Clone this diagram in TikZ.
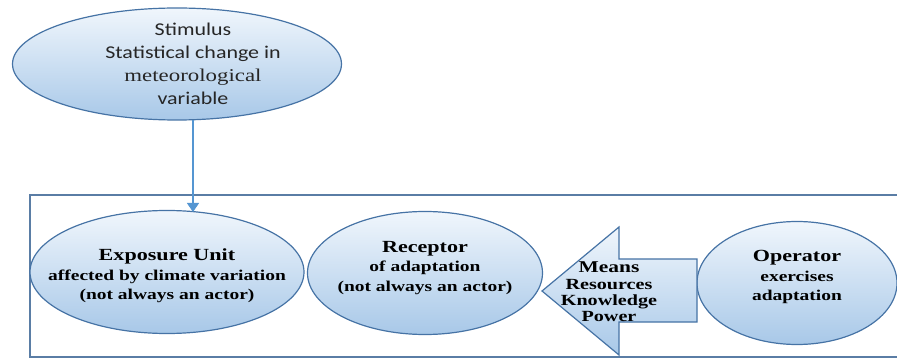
\documentclass[tikz,border=0pt]{standalone}
\usepackage{fontspec}
\setmainfont{Liberation Serif}
\newfontfamily\calfont[FakeStretch=1.22]{Carlito}
\newfontfamily\cambfont[FakeStretch=1.27]{Liberation Serif}
\newfontfamily\bsf[FakeStretch=1.3]{Liberation Serif}
\usetikzlibrary{shapes.geometric,arrows.meta}
\definecolor{edgeblue}{RGB}{70,115,165}
\definecolor{boxblue}{RGB}{90,125,165}
\definecolor{arrblue}{RGB}{85,150,210}
\definecolor{topfill}{RGB}{240,246,252}
\definecolor{botfill}{RGB}{168,200,232}
\tikzset{
  ell/.style={ellipse, draw=edgeblue, line width=1.2pt, top color=topfill, bottom color=botfill, inner sep=0pt, align=center},
  btxt/.style={align=center, inner sep=0pt, font=\bsf\bfseries\fontsize{15}{19.5}\selectfont},
}
\newcommand{\ttl}[1]{{\fontsize{17}{19.5}\selectfont #1}}
\begin{document}
\begin{tikzpicture}[x=1pt,y=-1pt]
\useasboundingbox (0,0) rectangle (897,358);
% outer box
\draw[boxblue, line width=1.3pt] (920,195) -- (30,195) -- (30,357) -- (920,357);
% stimulus
\node[ell, minimum width=329pt, minimum height=112pt] (stim) at (177,64) {};
\node[font=\calfont\fontsize{18}{23}\selectfont, align=center, text=black!85, inner sep=0pt] (stimt) at (193,64)
 {Stimulus\\Statistical change in\\{\cambfont meteorological}\\variable};
% exposure
\node[ell, minimum width=274pt, minimum height=123pt] (expo) at (167,272) {};
\node[btxt] (expot) at (167,276)
 {\ttl{Exposure Unit}\\affected by climate variation\\(not always an actor)};
% receptor
\node[ell, minimum width=235pt, minimum height=123pt] (rec) at (425,273) {};
\node[btxt] (rect) at (425,268)
 {\ttl{Receptor}\\of adaptation\\(not always an actor)};
% operator
\node[ell, minimum width=200pt, minimum height=123pt] (op) at (797,283) {};
\node[btxt] (opt) at (797,277)
 {\ttl{Operator}\\exercises\\adaptation};
% means arrow
\draw[edgeblue, line width=1.2pt, top color=topfill, bottom color=botfill]
  (697,259) -- (619,259) -- (619,227) -- (542,291) -- (619,355) -- (619,322) -- (697,322) -- cycle;
\node[align=center, inner sep=0pt, font=\bsf\bfseries\fontsize{15.5}{16.3}\selectfont] (means) at (609,292)
 {{\fontsize{16.5}{16.3}\selectfont Means}\\Resources\\Knowledge\\Power};
% connector
\draw[arrblue, line width=1.2pt, -{Triangle[length=9pt,width=12pt]}] (193,120) -- (193,212);
\end{tikzpicture}
\end{document}
